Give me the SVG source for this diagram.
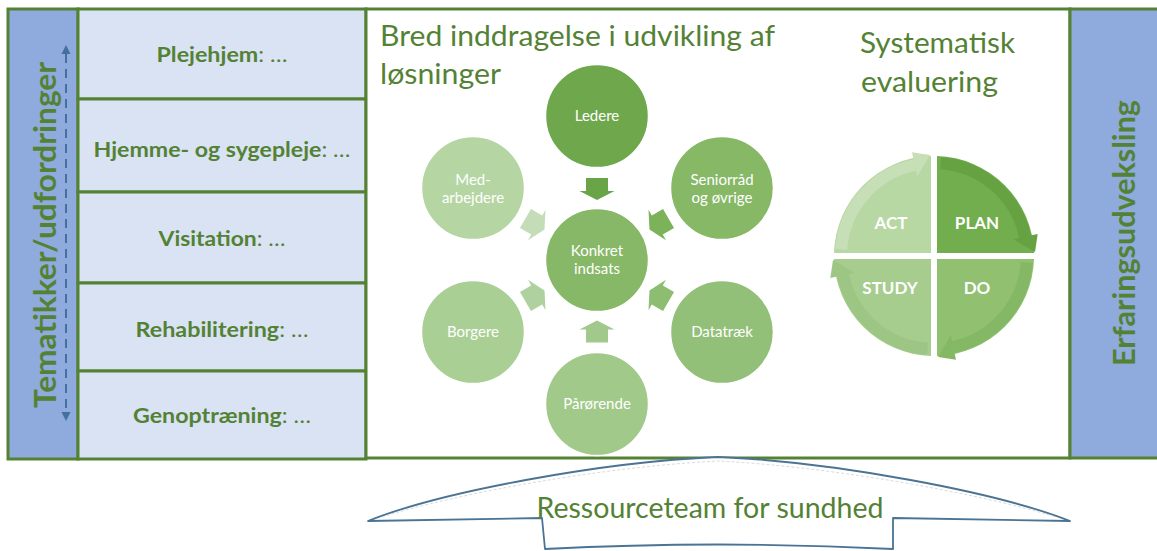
<svg xmlns="http://www.w3.org/2000/svg" width="1157" height="551" viewBox="0 0 1157 551">
<style>
.frame{stroke:#548235;stroke-width:3}
.blue{fill:#8faadc}
.row{fill:#dae3f3}
.lbl{font-family:Lato,"Liberation Sans",sans-serif;font-size:21px;fill:#548235;text-anchor:middle}
.b{font-weight:bold}
.n{font-weight:normal}
.vt{font-family:Lato,"Liberation Sans",sans-serif;font-size:30px;font-weight:bold;fill:#548235;text-anchor:middle}
.hd{font-family:Lato,"Liberation Sans",sans-serif;font-size:28px;fill:#548235}
.circ{stroke:#ffffff;stroke-width:1.5}
.ct{font-family:Lato,"Liberation Sans",sans-serif;font-size:15px;fill:#ffffff;text-anchor:middle}
.pt{font-family:Lato,"Liberation Sans",sans-serif;font-size:17px;font-weight:bold;fill:#ffffff;text-anchor:middle}
.band{fill:none;stroke-width:12}
</style>
<defs>
<polygon id="blk" points="-11,-11 11,-11 11,2 17.5,2 0,11 -17.5,2 -11,2"/>
<g id="qarc">
<path d="M940.5,163.2 A93,93 0 0 1 1025,236.7" class="band"/>
<polygon points="1013.2,239.2 1037.7,234 1035,252" stroke="none"/>
</g>
</defs>

<!-- left panel -->
<g id="left-column">
<rect x="8" y="9" width="70" height="450" class="blue frame"/>
<text class="vt" transform="translate(56,235) rotate(-90)" textLength="346" lengthAdjust="spacingAndGlyphs">Tematikker/udfordringer</text>
<line x1="66" y1="54" x2="66" y2="411" stroke="#41719c" stroke-width="2" stroke-dasharray="9 6"/>
<polygon points="66,45 61.5,54 70.5,54" fill="#41719c"/>
<polygon points="66,421 61.5,412 70.5,412" fill="#41719c"/>
</g>
<g id="row-plejehjem">
<rect x="78" y="9" width="288" height="90" class="row frame"/>
<text class="lbl" x="222" y="62" textLength="131" lengthAdjust="spacingAndGlyphs"><tspan class="b">Plejehjem</tspan><tspan class="n">: …</tspan></text>
</g>
<g id="row-hjemme">
<rect x="78" y="99" width="288" height="93" class="row frame"/>
<text class="lbl" x="222" y="157" textLength="257" lengthAdjust="spacingAndGlyphs"><tspan class="b">Hjemme- og sygepleje</tspan><tspan class="n">: …</tspan></text>
</g>
<g id="row-visitation">
<rect x="78" y="192" width="288" height="91" class="row frame"/>
<text class="lbl" x="222" y="246" textLength="127" lengthAdjust="spacingAndGlyphs"><tspan class="b">Visitation</tspan><tspan class="n">: …</tspan></text>
</g>
<g id="row-rehab">
<rect x="78" y="283" width="288" height="88" class="row frame"/>
<text class="lbl" x="222" y="337" textLength="173" lengthAdjust="spacingAndGlyphs"><tspan class="b">Rehabilitering</tspan><tspan class="n">: …</tspan></text>
</g>
<g id="row-genop">
<rect x="78" y="371" width="288" height="88" class="row frame"/>
<text class="lbl" x="222" y="423" textLength="178" lengthAdjust="spacingAndGlyphs"><tspan class="b">Genoptræning</tspan><tspan class="n">: …</tspan></text>
</g>

<!-- center -->
<g id="center-panel">
<rect x="366" y="9" width="704" height="449" fill="#ffffff" class="frame"/>
<text class="hd" x="380" y="46" textLength="395" lengthAdjust="spacingAndGlyphs">Bred inddragelse i udvikling af</text>
<text class="hd" x="380" y="84" textLength="121" lengthAdjust="spacingAndGlyphs">løsninger</text>
<text class="hd" x="860" y="53" textLength="155" lengthAdjust="spacingAndGlyphs">Systematisk</text>
<text class="hd" x="861" y="92" textLength="137" lengthAdjust="spacingAndGlyphs">evaluering</text>
</g>

<!-- right column -->
<g id="right-column">
<rect x="1070" y="9" width="92" height="449" class="blue frame"/>
<text class="vt" transform="translate(1135,233) rotate(-90)" textLength="266" lengthAdjust="spacingAndGlyphs">Erfaringsudveksling</text>
</g>

<!-- circles -->
<g id="node-ledere"><circle cx="597" cy="116" r="51.5" fill="#6fa84c" class="circ"/><text class="ct" x="597" y="121">Ledere</text></g>
<g id="node-seniorraad"><circle cx="722" cy="188" r="51.5" fill="#86b866" class="circ"/><text class="ct" x="722" y="185">Seniorråd</text><text class="ct" x="722" y="203">og øvrige</text></g>
<g id="node-medarbejdere"><circle cx="473" cy="188" r="51.5" fill="#b5d6a3" class="circ"/><text class="ct" x="473" y="185">Med-</text><text class="ct" x="473" y="203">arbejdere</text></g>
<g id="node-konkret"><circle cx="597" cy="260" r="51.5" fill="#87b867" class="circ"/><text class="ct" x="597" y="256">Konkret</text><text class="ct" x="597" y="274">indsats</text></g>
<g id="node-borgere"><circle cx="473" cy="332" r="51.5" fill="#a9cf95" class="circ"/><text class="ct" x="473" y="337">Borgere</text></g>
<g id="node-datatraek"><circle cx="722" cy="332" r="51.5" fill="#93c079" class="circ"/><text class="ct" x="722" y="337">Datatræk</text></g>
<g id="node-paaroerende"><circle cx="597" cy="404" r="51.5" fill="#a1c98a" class="circ"/><text class="ct" x="597" y="409">Pårørende</text></g>

<g id="connectors">
<use href="#blk" transform="translate(597,189)" fill="#69a446"/>
<use href="#blk" transform="translate(659,224) rotate(60)" fill="#7cb25a"/>
<use href="#blk" transform="translate(659,296) rotate(120)" fill="#8cbd70"/>
<use href="#blk" transform="translate(597,331.5) rotate(180)" fill="#a0c98b"/>
<use href="#blk" transform="translate(535,296) rotate(240)" fill="#aed1a0"/>
<use href="#blk" transform="translate(535,224) rotate(300)" fill="#c4dcb8"/>
</g>

<!-- PDCA -->
<g id="pdca">
<path d="M937,253 L937,156 A100,100 0 0 1 1034,253 Z" fill="#72ae4e"/>
<path d="M937,259 L1034,259 A100,100 0 0 1 937,356 Z" fill="#90c070"/>
<path d="M931,259 L931,356 A100,100 0 0 1 834,259 Z" fill="#a6cc8e"/>
<path d="M931,253 L834,253 A100,100 0 0 1 931,156 Z" fill="#b7d7a3"/>
<use href="#qarc" stroke="#66a242" fill="#66a242"/>
<use href="#qarc" transform="rotate(90 934 256)" stroke="#84b864" fill="#84b864"/>
<use href="#qarc" transform="rotate(180 934 256)" stroke="#9dc684" fill="#9dc684"/>
<use href="#qarc" transform="rotate(270 934 256)" stroke="#c6dfb6" fill="#c6dfb6"/>
<text class="pt" x="891" y="229">ACT</text>
<text class="pt" x="977" y="229">PLAN</text>
<text class="pt" x="890" y="294">STUDY</text>
<text class="pt" x="977" y="294">DO</text>
</g>

<!-- bottom callout -->
<g id="ressourceteam">
<path d="M718,457 C600,462 440,492 368,521 L542,518 L545,549 Q718,540 893,549 L893,518 L1070,521 C996,492 836,462 718,457 Z" fill="#ffffff" stroke="#4a7394" stroke-width="1.8" stroke-linejoin="round"/>
<path d="M382,517 C455,494 600,467 718,461 C836,467 981,494 1056,517" fill="none" stroke="#d0d0d0" stroke-width="0.8" stroke-dasharray="3 2"/>
<text class="hd" x="710" y="518" text-anchor="middle" font-size="26" textLength="347" lengthAdjust="spacingAndGlyphs">Ressourceteam for sundhed</text>
</g>
</svg>
